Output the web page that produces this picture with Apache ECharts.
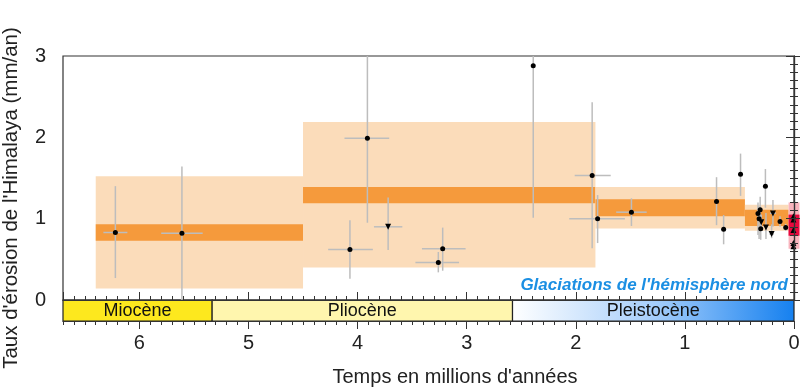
<!DOCTYPE html>
<html><head><meta charset="utf-8">
<script src="https://cdn.jsdelivr.net/npm/echarts@6/dist/echarts.min.js"></script>
<style>html,body{margin:0;padding:0;background:#fff}#c{width:800px;height:392px}</style>
</head><body><div id="c"></div>
<script>
const FONT = "'Liberation Sans', Arial, sans-serif";

// Geological epochs (Ma)
const epochNames = ['Miocène', 'Pliocène', 'Pleistocène'];
const epochStart = [6.7, 5.333, 2.58];
const epochEnd   = [5.333, 2.58, 0];

// Erosion-rate bands (Ma, mm/an)
const bandStart = [6.4, 4.5, 1.82, 0.45, 0.05];
const bandEnd   = [4.5, 1.82, 0.45, 0.05, -0.05];
const rangeLow  = [0.14, 0.40, 0.88, 0.85, 0.63];
const rangeHigh = [1.52, 2.19, 1.39, 1.17, 1.20];
const meanLow   = [0.73, 1.19, 1.03, 0.91, 0.79];
const meanHigh  = [0.93, 1.39, 1.24, 1.11, 1.05];

// Individual estimates
const ptAge     = [6.22, 5.61, 3.91, 4.07, 3.72, 3.22, 3.26, 2.39, 1.85, 1.80, 1.49, 0.71, 0.645, 0.49,
                   0.31, 0.33, 0.32, 0.30, 0.305, 0.262, 0.257, 0.193, 0.205, 0.128, 0.076,
                   0.005, 0.005, 0.005, 0.005, 0.005];
const ptRate    = [0.83, 0.82, 1.99, 0.62, 0.90, 0.63, 0.46, 2.88, 1.53, 1.00, 1.08, 1.21, 0.87, 1.545,
                   1.11, 1.065, 1.00, 0.955, 0.875, 1.40, 0.89, 1.065, 0.81, 0.965, 0.89,
                   1.03, 0.99, 0.86, 0.70, 0.66];
const ptAgeLo   = [6.11, 5.42, 3.71, 3.86, 3.59, 3.01, 3.07, null, 1.68, 1.55, 1.35, null, null, null,
                   null, null, null, null, null, null, null, 0.165, 0.185, null, null,
                   null, null, null, null, null];
const ptAgeHi   = [6.33, 5.80, 4.12, 4.27, 3.85, 3.41, 3.47, null, 2.01, 2.06, 1.63, null, null, null,
                   null, null, null, null, null, null, null, 0.22, 0.225, null, null,
                   null, null, null, null, null];
const ptRateLo  = [0.27, 0.0, 0.95, 0.26, 0.615, 0.36, 0.34, 1.01, 0.635, 0.70, 0.91, 0.92, 0.685, 1.28,
                   0.95, 0.80, 0.75, 0.85, 0.74, 1.135, 0.75, 0.90, 0.76, 0.90, 0.85,
                   null, null, null, null, null];
const ptRateHi  = [1.40, 1.64, 3.0, 0.98, 1.26, 0.89, 0.59, 3.0, 2.43, 1.29, 1.25, 1.51, 1.045, 1.80,
                   1.27, 1.20, 1.15, 1.05, 1.00, 1.61, 1.07, 1.23, 0.93, 1.03, 0.935,
                   null, null, null, null, null];
const ptMarker  = ['o','o','o','o','v','o','o','o','o','o','o','o','o','o',
                   'o','o','o','v','o','o','v','v','v','o','o',
                   '^','^','^','^','^'];

// Tick labels
const xTickLabels = ['0', '1', '2', '3', '4', '5', '6'];
const yTickLabels = ['0', '1', '2', '3'];

const AX = '#333';
const chart = echarts.init(document.getElementById('c'), null, {renderer: 'canvas'});

function rectFrom(api, xa, xb, ya, yb) {
  const p0 = api.coord([xa, yb]);
  const p1 = api.coord([xb, ya]);
  return {x: Math.min(p0[0], p1[0]), y: Math.min(p0[1], p1[1]),
          width: Math.abs(p1[0] - p0[0]), height: Math.abs(p1[1] - p0[1])};
}

const bandData = bandStart.map((s, i) => [s, bandEnd[i], rangeLow[i], rangeHigh[i], meanLow[i], meanHigh[i]]);
const epochData = epochNames.map((n, i) => [epochStart[i], epochEnd[i], i]);
const ptData = ptAge.map((a, i) => {
  const m = ptMarker[i];
  return {
    value: [a, ptRate[i]],
    symbol: m === 'o' ? 'circle' : 'triangle',
    symbolRotate: m === 'v' ? 180 : 0,
    symbolSize: m === 'o' ? 5 : 6
  };
});

const xTickFmt = v => (Math.abs(v - Math.round(v)) < 1e-6 ? xTickLabels[Math.round(v)] || '' : '');
const yTickFmt = v => (Math.abs(v - Math.round(v)) < 1e-6 ? yTickLabels[Math.round(v)] || '' : '');

function xAx(grid, interval, len, inside, labels, line) {
  return {
    type: 'value', gridIndex: grid, position: 'bottom', min: 0, max: 6.7, inverse: true,
    interval: interval, z: 10,
    axisLine: {show: line, lineStyle: {color: AX, width: 1.2}},
    axisTick: {show: true, inside: inside, length: len, lineStyle: {color: AX, width: 1}},
    axisLabel: {show: labels, formatter: xTickFmt, margin: 12, color: '#222', fontSize: 20, fontFamily: FONT,
                showMaxLabel: false, showMinLabel: true, hideOverlap: false},
    splitLine: {show: false}
  };
}
function yAx(pos, interval, len, labels, line) {
  return {
    type: 'value', gridIndex: 0, position: pos, min: 0, max: 3, interval: interval, z: 10,
    axisLine: {show: line, lineStyle: {color: AX, width: 1.2}},
    axisTick: {show: true, inside: true, length: len, lineStyle: {color: AX, width: 1}},
    axisLabel: {show: labels, formatter: yTickFmt, margin: 17, color: '#222', fontSize: 20, fontFamily: FONT},
    splitLine: {show: false}
  };
}

const option = {
  animation: false,
  backgroundColor: '#fff',
  grid: [
    {left: 63, right: 6, top: 56, height: 244, show: true, borderColor: AX, borderWidth: 1.2, backgroundColor: 'transparent', outerBoundsMode: 'none'},
    {left: 63, right: 6, top: 300, height: 21, show: false, outerBoundsMode: 'none'}
  ],
  xAxis: [
    xAx(0, 0.1, 4, true, false, true),
    xAx(0, 1, 8, true, false, false),
    xAx(1, 0.1, 4, false, false, true),
    xAx(1, 1, 8, false, true, false)
  ],
  yAxis: [
    yAx('left', 0.1, 4, false, true),
    yAx('left', 1, 8, true, false),
    yAx('right', 0.1, 4, false, true),
    yAx('right', 1, 8, false, false),
    {type: 'value', gridIndex: 1, min: 0, max: 1, show: false}
  ],
  graphic: [
    {type: 'text', x: 11, y: 198, rotation: Math.PI / 2, z: 100,
     style: {text: "Taux d'érosion de l'Himalaya (mm/an)", fill: '#222', font: '20.5px ' + FONT,
             textAlign: 'center', textVerticalAlign: 'middle'}},
    {type: 'text', x: 455, y: 377, z: 100,
     style: {text: "Temps en millions d'années", fill: '#222', font: '20px ' + FONT,
             textAlign: 'center', textVerticalAlign: 'middle'}},
    {type: 'text', x: 788, y: 285, z: 100,
     style: {text: "Glaciations de l'hémisphère nord", fill: '#1b8fe3', font: 'italic bold 17px ' + FONT,
             textAlign: 'right', textVerticalAlign: 'middle'}}
  ],
  series: [
    {
      type: 'custom', xAxisIndex: 0, yAxisIndex: 0, z: 1, clip: false, silent: true,
      data: bandData,
      renderItem: (params, api) => {
        const i = params.dataIndex;
        const last = i === bandData.length - 1;
        const xa = api.value(0), xb = api.value(1);
        return {type: 'group', children: [
          {type: 'rect', shape: rectFrom(api, xa, xb, api.value(2), api.value(3)),
           style: {fill: last ? '#f8b4bd' : '#fbdcba'}},
          {type: 'rect', shape: rectFrom(api, xa, xb, api.value(4), api.value(5)),
           style: {fill: last ? '#e8083e' : '#f59a3c'}}
        ]};
      }
    },
    {
      type: 'custom', xAxisIndex: 0, yAxisIndex: 0, z: 2, clip: false, silent: true,
      data: ptAge.map((a, i) => [a, ptRate[i]]),
      renderItem: (params, api) => {
        const i = params.dataIndex;
        const ch = [];
        const st = {stroke: '#bdbdbd', lineWidth: 1.5};
        if (ptRateLo[i] != null) {
          const a = api.coord([ptAge[i], ptRateLo[i]]), b = api.coord([ptAge[i], ptRateHi[i]]);
          ch.push({type: 'line', shape: {x1: a[0], y1: a[1], x2: b[0], y2: b[1]}, style: st});
        }
        if (ptAgeLo[i] != null) {
          const a = api.coord([ptAgeLo[i], ptRate[i]]), b = api.coord([ptAgeHi[i], ptRate[i]]);
          ch.push({type: 'line', shape: {x1: a[0], y1: a[1], x2: b[0], y2: b[1]}, style: st});
        }
        return {type: 'group', children: ch};
      }
    },
    {
      type: 'scatter', xAxisIndex: 0, yAxisIndex: 0, z: 3, silent: true, clip: false,
      itemStyle: {color: '#000', opacity: 1},
      data: ptData
    },
    {
      type: 'custom', xAxisIndex: 2, yAxisIndex: 4, z: 1, clip: false, silent: true,
      data: epochData,
      renderItem: (params, api) => {
        const i = params.dataIndex;
        const sh = rectFrom(api, api.value(0), api.value(1), 0, 1);
        let fill;
        if (i === 0) fill = '#fde81e';
        else if (i === 1) fill = '#fff6ae';
        else fill = new echarts.graphic.LinearGradient(0, 0, 1, 0, [
          {offset: 0, color: '#ffffff'}, {offset: 0.5, color: '#a6cefb'}, {offset: 1, color: '#1580ef'}]);
        return {type: 'group', children: [
          {type: 'rect', shape: sh, style: {fill: fill, stroke: '#222', lineWidth: 1.2}},
          {type: 'text', x: sh.x + sh.width / 2, y: sh.y + sh.height / 2 + 1,
           style: {text: epochNames[i], fill: '#111', font: '18px ' + FONT, textAlign: 'center', textVerticalAlign: 'middle'}}
        ]};
      }
    }
  ]
};
chart.setOption(option);
</script>
</body></html>
